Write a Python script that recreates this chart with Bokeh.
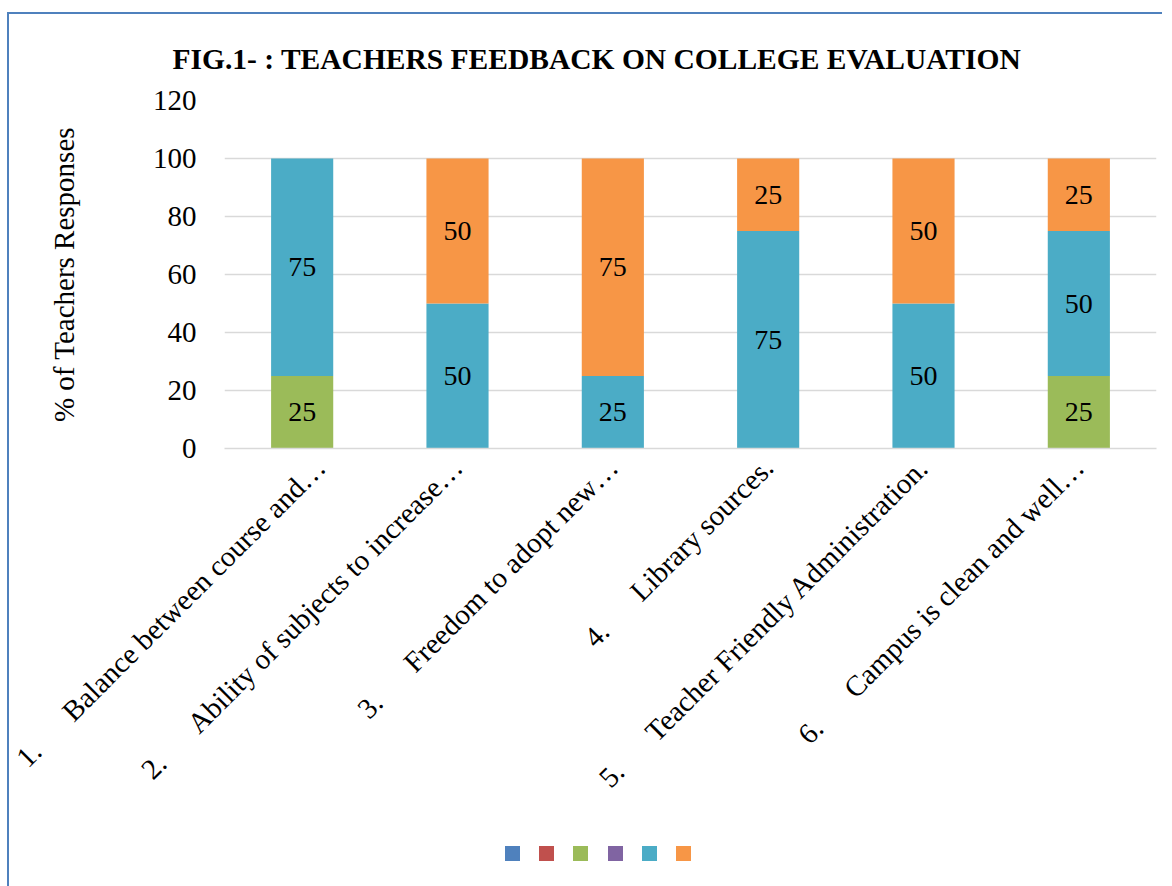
from bokeh.plotting import figure
from bokeh.models import ColumnDataSource, FactorRange, FixedTicker, LabelSet, Div
from bokeh.layouts import column
from bokeh.embed import file_html
from bokeh.resources import INLINE
import math

GAP = "\u00a0" * 6
categories = [
    "1." + GAP + "Balance between course and…",
    "2." + GAP + "Ability of subjects to increase…",
    "3." + GAP + "Freedom to adopt new…",
    "4." + GAP + "Library sources.",
    "5." + GAP + "Teacher Friendly Administration.",
    "6." + GAP + "Campus is clean and well…",
]
series_names = ["Series1", "Series2", "Series3", "Series4", "Series5", "Series6"]
series1 = [0, 0, 0, 0, 0, 0]
series2 = [0, 0, 0, 0, 0, 0]
series3 = [25, 0, 0, 0, 0, 25]
series4 = [0, 0, 0, 0, 0, 0]
series5 = [75, 50, 25, 75, 50, 50]
series6 = [0, 50, 75, 25, 50, 25]
colors = ["#4F81BD", "#C0504D", "#9BBB59", "#8064A2", "#4BACC6", "#F79646"]
y_ticks = [0, 20, 40, 60, 80, 100, 120]

FONT = "Liberation Serif"

data = {"cat": categories}
all_series = [series1, series2, series3, series4, series5, series6]
for n, s in zip(series_names, all_series):
    data[n] = s
source = ColumnDataSource(data)

p = figure(x_range=FactorRange(*categories, range_padding=0), y_range=(0, 120),
           frame_width=930, frame_height=346, output_backend="svg", toolbar_location=None,
           min_border_left=215, min_border_top=86, min_border_right=8, min_border_bottom=440)
p.margin = (12, 0, 0, 7)
p.styles = {"border-top": "2px solid #4F81BD", "border-left": "2px solid #4F81BD"}

renderers = p.vbar_stack(series_names, x="cat", width=0.4, color=colors, source=source,
                         line_color=None)

# data labels
lx, ly, lt = [], [], []
for i, c in enumerate(categories):
    base = 0
    for s in all_series:
        v = s[i]
        if v > 0:
            lx.append(c)
            ly.append(base + v / 2)
            lt.append(str(v))
        base += v
lsrc = ColumnDataSource(dict(x=lx, y=ly, t=lt))
labels = LabelSet(x="x", y="y", text="t", source=lsrc, text_align="center", text_baseline="middle",
                  text_font=FONT, text_font_size="28px", text_color="black")
p.add_layout(labels)

p.title.text = "FIG.1- : TEACHERS FEEDBACK ON COLLEGE EVALUATION"
p.title.text_font = FONT
p.title.text_font_size = "29.5px"
p.title.text_font_style = "bold"
p.title.text_color = "black"
p.title.align = "left"
p.title.offset = -52
p.title.standoff = 51

p.yaxis.ticker = FixedTicker(ticks=y_ticks)
p.yaxis.axis_label = "% of Teachers Responses"
p.yaxis.axis_label_text_font = FONT
p.yaxis.axis_label_text_font_size = "29px"
p.yaxis.axis_label_text_font_style = "normal"
p.yaxis.axis_label_text_color = "black"
p.yaxis.axis_label_standoff = 70
p.yaxis.major_label_text_font = FONT
p.yaxis.major_label_text_font_size = "29px"
p.yaxis.major_label_text_color = "black"
p.yaxis.major_label_standoff = 22
p.yaxis.axis_line_color = None
p.yaxis.major_tick_line_color = None
p.yaxis.minor_tick_line_color = None

p.xaxis.major_label_orientation = math.pi / 4
p.xaxis.major_label_text_font = FONT
p.xaxis.major_label_text_font_size = "29px"
p.xaxis.major_label_text_color = "black"
p.xaxis.major_label_standoff = 8
p.xaxis.axis_line_color = "#D9D9D9"
p.xaxis.axis_line_width = 1.5
p.xaxis.major_tick_line_color = None
p.xaxis.minor_tick_line_color = None

p.xgrid.grid_line_color = None
p.ygrid.grid_line_color = "#D9D9D9"
p.ygrid.grid_line_width = 1.5
p.outline_line_color = None

# legend: one unlabeled colour square per series (as in the reference)
squares = "".join(
    f'<span style="display:inline-block;width:15px;height:15px;background:{c};margin-right:19.2px"></span>'
    for c in colors)
legend_div = Div(text=f'<div style="position:fixed;left:505px;top:846px;white-space:nowrap;line-height:0;font-size:0">{squares}</div>',
                 width=10, height=10)

layout = column(p, legend_div)
open("out.html", "w").write(file_html(layout, INLINE))
